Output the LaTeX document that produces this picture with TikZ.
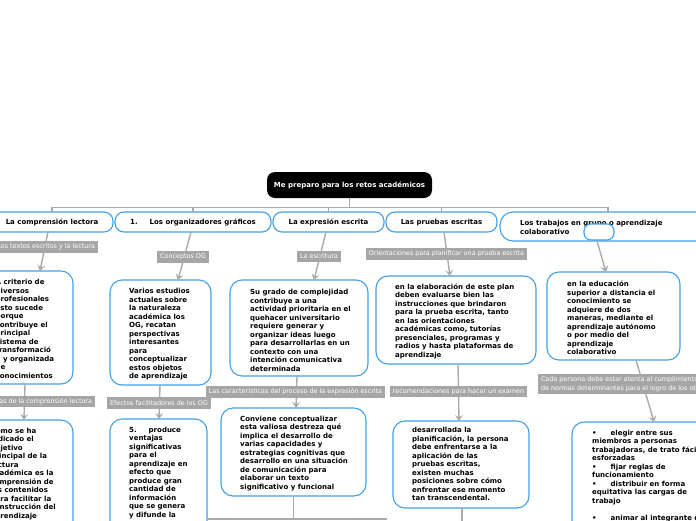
\documentclass[tikz,border=0pt]{standalone}
\usepackage{fontspec}
\setmainfont{DejaVu Sans}
\usetikzlibrary{arrows.meta}
\definecolor{nodeblue}{RGB}{66,160,232}
\definecolor{linegray}{RGB}{170,170,170}
\definecolor{labgray}{RGB}{166,166,166}
\begin{document}
\begin{tikzpicture}[x=1pt,y=-1pt,
  box/.style={draw=nodeblue,line width=1.1pt,fill=white,rounded corners=12pt,inner sep=0pt,outer sep=0pt},
  lone/.style={box,rounded corners=9pt,font=\fontsize{7}{8.5}\selectfont\bfseries,text height=5.2pt,text depth=0pt},
  txt/.style={inner sep=0pt,align=left,font=\fontsize{7}{8.5}\selectfont\bfseries,text=black},
  lab/.style={fill=labgray,text=white,inner xsep=3pt,inner ysep=0pt,minimum height=11.5pt,font=\fontsize{6.4}{8.6}\selectfont,outer sep=0pt,align=left},
  conn/.style={draw=linegray,line width=1.4pt,-{Stealth[length=6pt,width=8pt,inset=2.5pt]}},
  bus/.style={draw=linegray,line width=1.4pt}]
\useasboundingbox (0,0) rectangle (696,520);
\clip (0,0) rectangle (696,520);
\fill[white] (0,0) rectangle (696,520);

% root
\node[fill=black,rounded corners=8pt,minimum width=165pt,minimum height=26pt,inner sep=0pt,text=white,font=\fontsize{7}{8.5}\selectfont\bfseries,text height=5.2pt,text depth=0pt] (root) at (349.5,185) {Me preparo para los retos académicos};

% level 1
\node[lone,minimum width=122pt,minimum height=20pt] (l1a) at (52,222) {La comprensión lectora};
\node[lone,minimum width=156pt,minimum height=20pt] (l1b) at (193,222) {1.\hspace{12pt}Los organizadores gráficos};
\node[lone,minimum width=111pt,minimum height=20pt] (l1c) at (328.5,222) {La expresión escrita};
\node[lone,minimum width=111pt,minimum height=20pt] (l1d) at (441.5,222) {Las pruebas escritas};
\node[box,rounded corners=13pt,minimum width=216pt,minimum height=29pt] (l1e) at (608,226.5) {};
\node[txt,anchor=west] (t1e) at (520,227.5) {Los trabajos en grupo o aprendizaje\\colaborativo};
\node[box,rounded corners=7pt,minimum width=30pt,minimum height=16pt] (l1x) at (599,232) {};

\foreach \n in {l1a,l1b,l1c,l1d,l1e}
  \draw[bus] (root.south) -- ++(0,9) -| (\n.north);

% level 2 boxes
\node[box,minimum width=101pt,minimum height=113pt] (c1a) at (22.5,327.5) {};
\node[box,minimum width=101pt,minimum height=105pt] (c1b) at (160.5,332.5) {};
\node[box,minimum width=138pt,minimum height=96pt] (c1c) at (299,328) {};
\node[box,minimum width=160pt,minimum height=88pt] (c1d) at (456,320) {};
\node[box,minimum width=133pt,minimum height=88pt] (c1e) at (613.5,316) {};

\node[txt,anchor=west] (t1a) at (-4.5,328.7) {A criterio de\\diversos\\profesionales\\esto sucede\\porque\\contribuye el\\principal\\sistema de\\transformació\\n y organizada\\de\\conocimientos};
\node[txt,anchor=west] (t1b) at (129,334.2) {Varios estudios\\actuales sobre\\la naturaleza\\académica los\\OG, recatan\\perspectivas\\interesantes\\para\\conceptualizar\\estos objetos\\de aprendizaje};
\node[txt,anchor=west] (t1c) at (250,330.2) {Su grado de complejidad\\contribuye a una\\actividad prioritaria en el\\quehacer universitario\\requiere generar y\\organizar ideas luego\\para desarrollarlas en un\\contexto con una\\intención comunicativa\\determinada};
\node[txt,anchor=west] (t1d) at (395,321.2) {en la elaboración de este plan\\deben evaluarse bien las\\instrucciones que brindaron\\para la prueba escrita, tanto\\en las orientaciones\\académicas como, tutorías\\presenciales, programas y\\radios y hasta plataformas de\\aprendizaje};
\node[txt,anchor=west] (t1e2) at (567,318.2) {en la educación\\superior a distancia el\\conocimiento se\\adquiere de dos\\maneras, mediante el\\aprendizaje autónomo\\o por medio del\\aprendizaje\\colaborativo};

% level 3 boxes
\node[box,minimum width=101pt,minimum height=120pt] (c2a) at (22.5,480) {};
\node[box,minimum width=97pt,minimum height=121pt] (c2b) at (158.5,479.5) {};
\node[box,minimum width=145pt,minimum height=88pt] (c2c) at (293.5,452) {};
\node[box,minimum width=136pt,minimum height=87pt] (c2d) at (461,464.5) {};
\node[box,minimum width=148pt,minimum height=118pt] (c2e) at (646,481) {};

\node[txt,anchor=north west] (t2a) at (-9.5,427.8) {Como se ha\\indicado el\\objetivo\\principal de la\\lectura\\académica es la\\comprensión de\\los contenidos\\para facilitar la\\construcción del\\aprendizaje};
\node[txt,anchor=north west] (t2b) at (129,426.8) {5.\hspace{12pt}produce\\ventajas\\significativas\\para el\\aprendizaje en\\efecto que\\produce gran\\cantidad de\\información\\que se genera\\y difunde la};
\node[txt,anchor=west] (t2c) at (240,453.2) {Conviene conceptualizar\\esta valiosa destreza qué\\implica el desarrollo de\\varias capacidades y\\estrategias cognitivas que\\desarrollo en una situación\\de comunicación para\\elaborar un texto\\significativo y funcional};
\node[txt,anchor=west] (t2d) at (412,464.2) {desarrollada la\\planificación, la persona\\debe enfrentarse a la\\aplicación de las\\pruebas escritas,\\existen muchas\\posiciones sobre cómo\\enfrentar ese momento\\tan transcendental.};
\node[txt,anchor=north west] (t2e) at (592,429.8) {•\hspace{14pt}elegir entre sus\\miembros a personas\\trabajadoras, de trato fácil\\esforzadas\\•\hspace{14pt}fijar reglas de\\funcionamiento\\•\hspace{14pt}distribuir en forma\\equitativa las cargas de\\trabajo\\\mbox{}\\•\hspace{14pt}animar al integrante de};

% connectors level 1 -> 2
\draw[conn] ([xshift=-4pt]l1a.south) -- ([xshift=17.5pt]c1a.north);
\draw[conn] ([xshift=-2pt]l1b.south) -- ([xshift=17.5pt]c1b.north);
\draw[conn] ([xshift=-2.5pt]l1c.south) -- ([xshift=15pt]c1c.north);
\draw[conn] ([xshift=2.5pt]l1d.south) -- ([xshift=-6pt]c1d.north);
\draw[conn] ([xshift=-11pt]l1e.south) -- ([xshift=-7.5pt]c1e.north);

% connectors level 2 -> 3
\draw[conn] ([xshift=2.5pt]c1a.south) -- ([xshift=1.5pt]c2a.north);
\draw[conn] ([xshift=-0.5pt]c1b.south) -- ([xshift=0.5pt]c2b.north);
\draw[conn] ([xshift=-2pt]c1c.south) -- ([xshift=2.5pt]c2c.north);
\draw[conn] ([xshift=2pt]c1d.south) -- ([xshift=-2pt]c2d.north);
\draw[conn] ([xshift=22.5pt]c1e.south) -- ([xshift=8pt]c2e.north);

% connectors leaving the picture
\coordinate (hl) at (207,519);
\coordinate (hr) at (387,519);
\draw[bus] (c2c.south) -- (c2c.south |- hl);
\draw[bus] (hl) -- (hr);
\coordinate (dd) at (462,524);
\draw[bus] ([xshift=1pt]c2d.south) -- (dd);

% labels
\node[lab,anchor=east] (la1) at (98,247) {Los textos escritos y la lectura};
\node[lab] (lb1) at (183,257) {Conceptos OG};
\node[lab] (lc1) at (319,256.5) {La escritura};
\node[lab] (ld1) at (446.5,254) {Orientaciones para planificar una prueba escrita};
\node[lab,anchor=east] (la2) at (95,401.5) {Estrategias de la comprensión lectora};
\node[lab] (lb2) at (159,403) {Efectos facilitadores de los OG};
\node[lab] (lc2) at (295.5,392) {Las características del proceso de la expresión escrita};
\node[lab] (ld2) at (458.5,391.5) {recomendaciones para hacer un examen};
\node[lab,anchor=west,minimum height=20pt] (le2) at (538,384) {Cada persona debe estar atenta al cumplimiento\\de normas determinantes para el logro de los objetivos};
\end{tikzpicture}
\end{document}
